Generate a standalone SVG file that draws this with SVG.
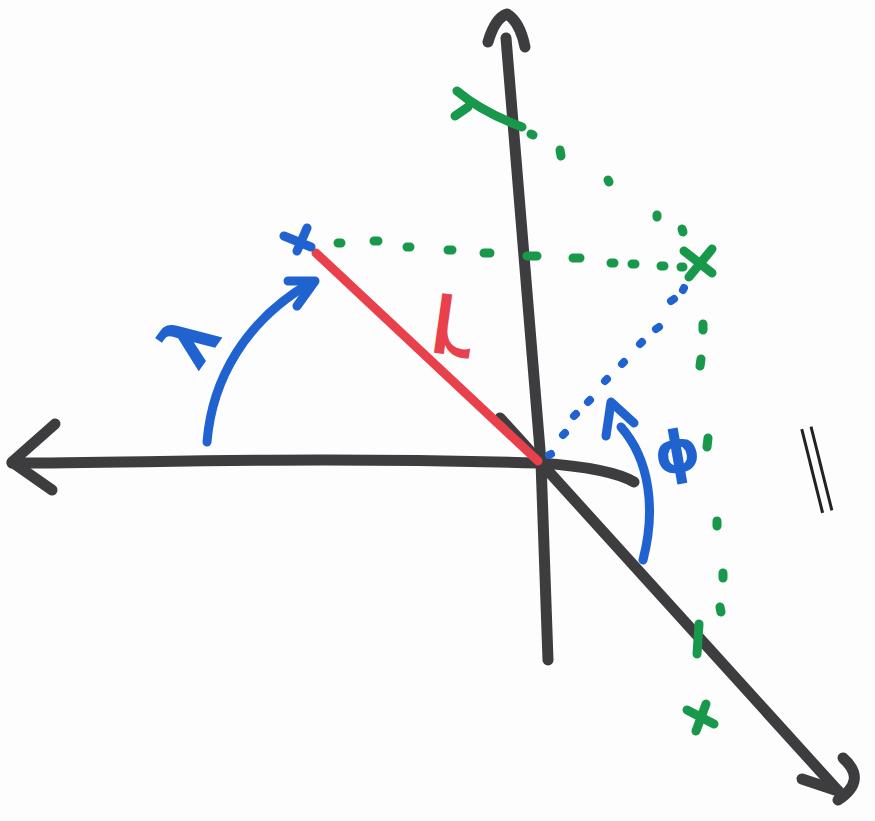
<svg xmlns="http://www.w3.org/2000/svg" width="875" height="821" viewBox="0 0 875 821">
<style>
.ax{fill:none;stroke:#3d3d3f;stroke-width:11;stroke-linecap:round;stroke-linejoin:round}
.bl{fill:none;stroke:#1f62d0;stroke-width:9;stroke-linecap:round;stroke-linejoin:round}
.rd{fill:none;stroke:#e8414b;stroke-width:9;stroke-linecap:round}
.gr{fill:none;stroke:#18984a;stroke-width:9;stroke-linecap:round;stroke-linejoin:round}
.gd{fill:none;stroke:#18984a;stroke-width:9;stroke-linecap:round}
.bd{fill:none;stroke:#1f62d0;stroke-width:8;stroke-linecap:round}
.lbl{font-family:"DejaVu Sans",sans-serif}
</style>
<rect width="875" height="821" fill="#fdfdfd"/>
<g id="connectors">
  <g id="axis-vertical">
    <path class="ax" d="M506,38 L541,462 L548,660"/>
    <path class="ax" d="M488,42 Q495,18 507,14 Q520,22 525,47"/>
  </g>
  <g id="axis-horizontal">
    <path class="ax" d="M12,463 C150,463 300,456 540,463 Q610,468 634,482"/>
    <path class="ax" d="M55,424 L12,462 L52,490"/>
  </g>
  <g id="axis-diagonal">
    <path class="ax" d="M500,418 L540,462 L840,793"/>
    <path class="ax" d="M802,779 L838,791"/>
    <path class="ax" d="M843,758 Q868,780 838,800"/>
  </g>
  <g id="radius">
    <path class="rd" d="M316,253 L538,461"/>
  </g>
  <g id="elevation-arc">
    <path class="bl" d="M207,442 C212,380 245,320 312,282"/>
    <path class="bl" d="M288,281 L315,281 L297,306"/>
  </g>
  <g id="azimuth-arc">
    <path class="bl" d="M643,560 C656,510 650,460 621,427"/>
    <path class="bl" d="M606,436 L611,402 L634,423"/>
  </g>
  <g id="blue-dotted">
    <path class="bd" d="M549,455 l2,-1 M563,435 l2,-2 M574,416 l2,-2 M588,402 l2,-2 M605,381 l2,-2 M622,364 l2,-2 M640,344 l2,-2 M656,329 l3,-2 M671,301 l3,-2 M683,290 l1,-2"/>
  </g>
  <g id="green-dotted-horizontal">
    <path class="gd" d="M338,243 l3,0 M374,241 l4,0 M407,247 l3,0 M448,250 l4,0 M484,253 l6,0 M527,256 l10,0 M573,258 l7,0 M611,263 l3,0 M632,264 l3,0 M661,266 l3,0 M681,267 l2,0"/>
  </g>
  <g id="green-dotted-arc">
    <path class="gr" d="M457,91 Q482,112 522,127"/>
    <path class="gr" d="M455,116 L468,107"/>
    <path class="gd" d="M531,134 l2,1 M560,150 l1,6 M608,180 l1,2 M657,215 l0,2 M682,229 l1,3"/>
  </g>
  <g id="green-dotted-vertical">
    <path class="gd" d="M703,324 l0,6 M701,359 l-1,7 M708,438 l-1,9 M717,521 l0,5 M723,573 l0,5 M720,607 l1,5 M699,624 l-2,30"/>
  </g>
</g>
<g id="point-blue">
  <path class="bl" d="M284,236 L311,247 M307,228 L297,251"/>
</g>
<g id="point-green">
  <path class="gr" d="M684,251 L712,273 M712,249 L689,277"/>
</g>
<g id="point-green-bottom">
  <path class="gr" d="M687,710 L714,724 M706,704 L696,731"/>
</g>
<g id="label-lambda">
  <text class="lbl" x="0" y="0" font-size="72" font-weight="bold" fill="#1f62d0" text-anchor="middle" dominant-baseline="central" transform="translate(190,340) rotate(-55)">λ</text>
</g>
<g id="label-r">
  <text class="lbl" x="0" y="0" font-size="110" fill="#e8414b" text-anchor="middle" transform="translate(455,295) rotate(8) scale(1,-1)">r</text>
</g>
<g id="label-phi">
  <text class="lbl" x="0" y="0" font-size="58" font-weight="bold" fill="#1f62d0" text-anchor="middle" dominant-baseline="central" transform="translate(677,452) rotate(-10)">ϕ</text>
</g>
<g id="label-parallel">
  <text x="0" y="0" font-family="Liberation Sans, sans-serif" font-size="92" fill="#222" text-anchor="middle" dominant-baseline="central" transform="translate(815,462) rotate(-14) scale(0.4,1)">||</text>
</g>
</svg>
